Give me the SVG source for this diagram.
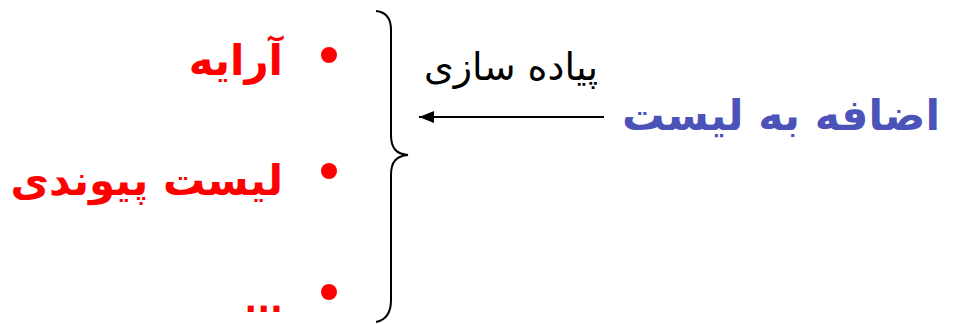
<svg xmlns="http://www.w3.org/2000/svg" width="953" height="324" viewBox="0 0 953 324">
<defs>
<style>
.item{font-family:"DejaVu Sans","Noto Sans",sans-serif;font-weight:bold;fill:#ff0000;font-size:42px}
.dots{font-size:34px}
.bullet{fill:#ff0000}
.lbl{font-family:"DejaVu Sans","Noto Sans",sans-serif;fill:#000;font-size:38px}
.main{font-family:"DejaVu Sans","Noto Sans",sans-serif;font-weight:bold;fill:#4b53b9;font-size:42.5px}
.line{stroke:#000;stroke-width:2;fill:none}
</style>
<marker id="ah" markerWidth="15" markerHeight="12" refX="15" refY="6" orient="auto" markerUnits="userSpaceOnUse">
<path d="M0,0 L15,6 L0,12 Z" fill="#000"/>
</marker>
</defs>
<rect width="953" height="324" fill="#fff"/>
<g id="item1">
<circle class="bullet" cx="329" cy="55" r="8"/>
<text class="item" x="283" y="75" text-anchor="end">آرایه</text>
</g>
<g id="item2">
<circle class="bullet" cx="329" cy="171" r="8"/>
<text class="item" x="283" y="195" text-anchor="end">لیست پیوندی</text>
</g>
<g id="item3">
<circle class="bullet" cx="329" cy="292" r="8"/>
<text class="item dots" x="283" y="312" text-anchor="end">...</text>
</g>
<g id="brace">
<path class="line" d="M376,11 C386,12 391,18 391,30 L391,135 C391,148 396,154 408,155 C396,156 391,162 391,175 L391,300 C391,312 386,320 376,322"/>
</g>
<g id="target">
<text class="main" x="940" y="130" text-anchor="end">اضافه به لیست</text>
</g>
<g id="connectors">
<line class="line" x1="604" y1="117" x2="419" y2="117" marker-end="url(#ah)"/>
<text class="lbl" x="598" y="80" text-anchor="end">پیاده سازی</text>
</g>
</svg>
